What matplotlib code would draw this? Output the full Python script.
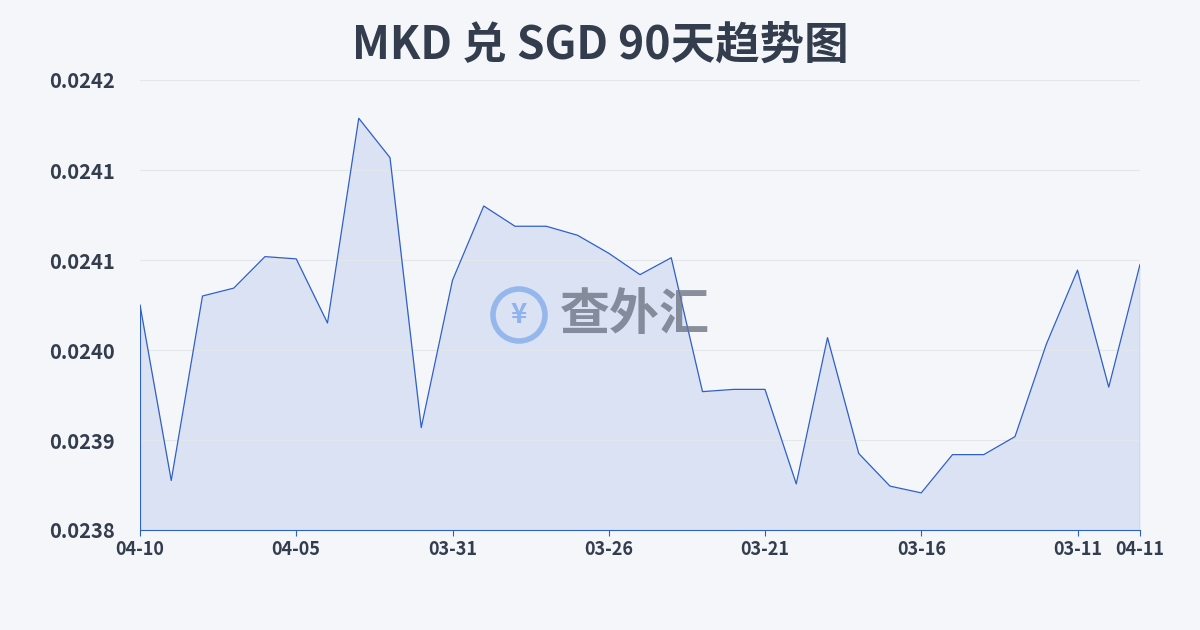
import matplotlib
matplotlib.use("Agg")
import matplotlib.pyplot as plt
from matplotlib.patches import Ellipse
import numpy as np

plt.rcParams['font.family'] = ['Noto Sans CJK SC', 'DejaVu Sans']

values = [0.024000, 0.023844, 0.024008, 0.024015, 0.024043, 0.024041, 0.023984,
          0.024166, 0.024131, 0.023891, 0.024022, 0.024088, 0.024070, 0.024070,
          0.024062, 0.024046, 0.024027, 0.024042, 0.023923, 0.023925, 0.023925,
          0.023841, 0.023971, 0.023868, 0.023839, 0.023833, 0.023867, 0.023867,
          0.023883, 0.023965, 0.024031, 0.023927, 0.024036]
tick_pos = [0, 5, 10, 15, 20, 25, 30, 32]
tick_labels = ['04-10', '04-05', '03-31', '03-26', '03-21', '03-16', '03-11', '04-11']
y_ticks = [0.0238, 0.02388, 0.02396, 0.02404, 0.02412, 0.0242]
y_labels = ['0.0238', '0.0239', '0.0240', '0.0241', '0.0241', '0.0242']

fig = plt.figure(figsize=(12, 6.3), dpi=100)
fig.patch.set_facecolor('#f4f6f9')
ax = fig.add_axes([140/1200, 100/630, 1000/1200, 450/630])
ax.set_facecolor('none')
x = np.arange(len(values))
ax.fill_between(x, values, 0.0238, color='#c9d6f2', alpha=0.6, lw=0)
ax.plot(x, values, color='#2f5fc8', lw=0.9)
ax.vlines([0, len(values) - 1], 0.0238, [values[0], values[-1]], color='#2f5fc8', lw=0.8)
ax.set_xlim(0, len(values) - 1)
ax.set_ylim(0.0238, 0.0242)
ax.set_yticks(y_ticks)
ax.set_yticklabels(y_labels)
ax.set_xticks(tick_pos)
ax.set_xticklabels(tick_labels)
ax.grid(axis='y', color='#e3e6eb', lw=0.8)
for s in ['top', 'right', 'left']:
    ax.spines[s].set_visible(False)
ax.spines['bottom'].set_color('#2f5fc8')
ax.spines['bottom'].set_linewidth(0.8)
ax.tick_params(axis='y', length=0, labelsize=14.5, labelcolor='#333d4d', pad=18)
ax.tick_params(axis='x', length=4, color='#2f5fc8', labelsize=13, labelcolor='#333d4d')
for t in ax.get_xticklabels() + ax.get_yticklabels():
    t.set_fontweight('bold')
fig.text(0.5, 0.927, 'MKD 兑 SGD 90天趋势图', ha='center', va='center',
         fontsize=32, fontweight='bold', color='#333d4d')
# watermark
circ = Ellipse((519/1200, 315/630), 52/1200, 52/630, transform=fig.transFigure,
               fill=False, ec='#8fb3ec', lw=4, alpha=0.9)
fig.add_artist(circ)
fig.text(519/1200, 315/630, '¥', ha='center', va='center', fontsize=20,
         fontweight='bold', color='#8fb3ec')
fig.text(635/1200, 315/630, '查外汇', ha='center', va='center', fontsize=36,
         fontweight='bold', color='#6f7785', alpha=0.8)
fig.savefig('out.png', dpi=100, facecolor=fig.get_facecolor())
